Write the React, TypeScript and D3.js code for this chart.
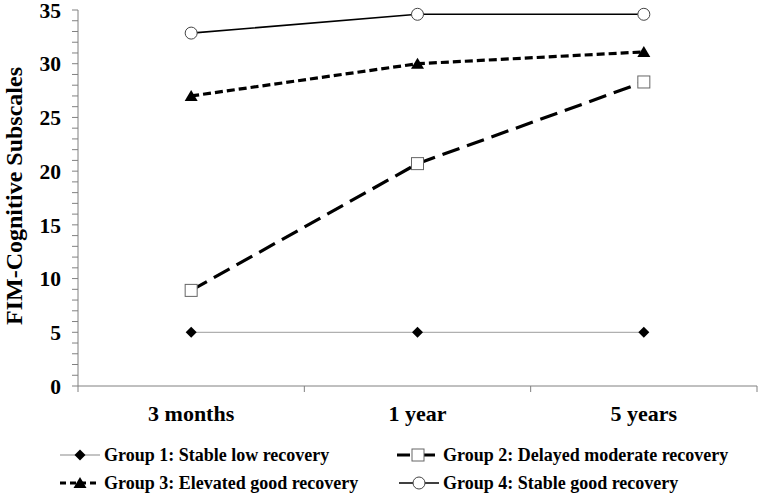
import React from "react";
import * as d3 from "d3";

const categories = ["3 months", "1 year", "5 years"];
const group1 = [5, 5, 5];
const group2 = [8.9, 20.7, 28.3];
const group3 = [27.0, 30.0, 31.1];
const group4 = [32.85, 34.6, 34.6];
const yTicks = [0, 5, 10, 15, 20, 25, 30, 35];
const seriesNames = [
  "Group 1: Stable low recovery",
  "Group 2: Delayed moderate recovery",
  "Group 3: Elevated good recovery",
  "Group 4: Stable good recovery",
];

const W = 760, H = 494;
const left = 78, right = 757, top = 10, bottom = 386;
const font = "'Liberation Serif', 'Times New Roman', serif";

type Style = { stroke: string; width: number; dash?: string; marker: string };
const styles: Style[] = [
  { stroke: "#b0b0b0", width: 1.3, marker: "diamond" },
  { stroke: "#000", width: 3.2, dash: "18,8", marker: "square" },
  { stroke: "#000", width: 3.2, dash: "8,4", marker: "triangle" },
  { stroke: "#000", width: 1.6, marker: "circle" },
];

function Marker({ type, x, y }: { type: string; x: number; y: number }) {
  if (type === "diamond") {
    const r = 5.5;
    return <path d={`M${x},${y - r}L${x + r},${y}L${x},${y + r}L${x - r},${y}Z`} fill="#000" />;
  }
  if (type === "square") {
    return <rect x={x - 6} y={y - 6} width={12} height={12} fill="#fff" stroke="#666" strokeWidth={1} />;
  }
  if (type === "triangle") {
    return <path d={`M${x},${y - 6}L${x + 6.5},${y + 5}L${x - 6.5},${y + 5}Z`} fill="#000" />;
  }
  return <circle cx={x} cy={y} r={6} fill="#fff" stroke="#444" strokeWidth={1} />;
}

export default function App() {
  const x = d3.scaleBand<string>().domain(categories).range([left, right]);
  const y = d3.scaleLinear().domain([0, 35]).range([bottom, top]);
  const data = [group1, group2, group3, group4];
  const line = d3
    .line<number>()
    .x((_, i) => (x(categories[i]) as number) + x.bandwidth() / 2)
    .y((v) => y(v));
  const minor = d3.range(0, 36, 1);
  const boundaries = [...categories.map((c) => x(c) as number), right];

  const legend = [
    { i: 0, lx: 60, ly: 455, tx: 104 },
    { i: 1, lx: 397, ly: 455, tx: 443 },
    { i: 2, lx: 60, ly: 483, tx: 104 },
    { i: 3, lx: 399, ly: 483, tx: 443 },
  ];

  return (
    <svg width={W} height={H} style={{ position: "absolute", left: 0, top: 0 }}>
      <rect width={W} height={H} fill="#fff" />
      {/* y axis */}
      <line x1={left} x2={left} y1={top} y2={bottom} stroke="#808080" strokeWidth={1} />
      {minor.map((t) => (
        <line key={t} x1={left - 6} x2={left} y1={y(t)} y2={y(t)} stroke="#808080" strokeWidth={1} />
      ))}
      {yTicks.map((t) => (
        <text key={t} x={61} y={y(t)} dy="0.36em" textAnchor="end" fontFamily={font} fontWeight="bold" fontSize={21.5}>
          {t}
        </text>
      ))}
      {/* x axis */}
      <line x1={left} x2={right} y1={bottom} y2={bottom} stroke="#808080" strokeWidth={1} />
      {boundaries.map((b, i) => (
        <line key={i} x1={b} x2={b} y1={bottom} y2={bottom + 6} stroke="#808080" strokeWidth={1} />
      ))}
      {categories.map((c) => (
        <text key={c} x={(x(c) as number) + x.bandwidth() / 2} y={421} textAnchor="middle" fontFamily={font} fontWeight="bold" fontSize={22}>
          {c}
        </text>
      ))}
      <text transform={`translate(22,${196}) rotate(-90)`} textAnchor="middle" fontFamily={font} fontWeight="bold" fontSize={24}>
        FIM-Cognitive Subscales
      </text>
      {/* series */}
      {data.map((d, si) => (
        <g key={si}>
          <path d={line(d) as string} fill="none" stroke={styles[si].stroke} strokeWidth={styles[si].width} strokeDasharray={styles[si].dash} />
          {d.map((v, i) => (
            <Marker key={i} type={styles[si].marker} x={(x(categories[i]) as number) + x.bandwidth() / 2} y={y(v)} />
          ))}
        </g>
      ))}
      {/* legend */}
      {legend.map(({ i, lx, ly, tx }) => (
        <g key={i}>
          <line x1={lx} x2={tx - 4} y1={ly} y2={ly} stroke={styles[i].stroke} strokeWidth={styles[i].width} strokeDasharray={i === 1 ? "13,12" : i === 2 ? "6,4" : undefined} />
          <Marker type={styles[i].marker} x={(lx + tx - 4) / 2} y={ly} />
          <text x={tx} y={ly} dy="0.35em" fontFamily={font} fontWeight="bold" fontSize={18}>
            {seriesNames[i]}
          </text>
        </g>
      ))}
    </svg>
  );
}
